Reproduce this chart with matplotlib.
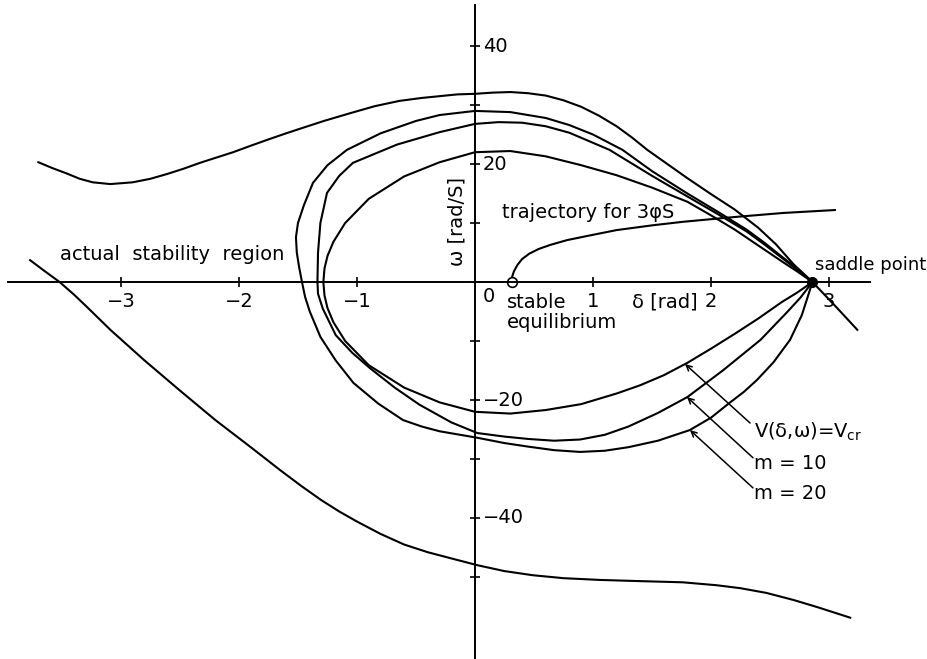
import numpy as np
from matplotlib import pyplot as plt

# stability region boundary (upper one runs through the saddle point)
bound_up_d = [-3.70, -3.58, -3.46, -3.35, -3.24, -3.09, -2.90, -2.75, -2.61, -2.47, -2.33, -2.19, -2.05,
              -1.90, -1.76, -1.63, -1.51, -1.28, -1.06, -0.85, -0.64, -0.45, -0.30, -0.15,
              0.0, 0.15, 0.3, 0.45, 0.6, 0.75, 0.9, 1.05, 1.2, 1.33, 1.46, 1.63, 1.8, 2.0, 2.2, 2.4,
              2.55, 2.7, 2.86, 3.05, 3.24]
bound_up_w = [20.3, 19.3, 18.4, 17.5, 16.9, 16.6, 16.9, 17.5, 18.3, 19.2, 20.2, 21.1, 22.0,
              23.1, 24.1, 25.0, 25.8, 27.3, 28.6, 29.8, 30.7, 31.2, 31.5, 31.8,
              31.9, 32.1, 32.2, 32.0, 31.6, 30.8, 29.7, 28.2, 26.4, 24.5, 22.4, 20.0, 17.6, 14.9, 12.3, 9.2,
              6.4, 3.0, 0.0, -4.0, -8.1]
bound_low_d = [-3.77, -3.65, -3.52, -3.40, -3.30, -3.09, -2.80, -2.50, -2.20, -1.90, -1.65, -1.47, -1.30,
               -1.15, -1.00, -0.80, -0.60, -0.40, -0.21, 0.02, 0.25, 0.49, 0.75, 1.06, 1.40, 1.76, 2.05,
               2.25, 2.47, 2.70, 2.90, 3.18]
bound_low_w = [3.7, 1.9, 0.0, -2.1, -4.0, -8.1, -13.3, -18.4, -23.4, -28.0, -31.9, -34.6, -37.0,
               -38.9, -40.6, -42.7, -44.5, -45.8, -46.8, -48.0, -49.0, -49.7, -50.2, -50.5, -50.7, -50.9, -51.4,
               -51.9, -52.7, -53.9, -55.1, -56.9]

# trajectory for 3phi S fault
traj_d = [0.31, 0.315, 0.33, 0.36, 0.40, 0.46, 0.54, 0.64, 0.78, 0.95, 1.20, 1.50, 1.76, 2.19, 2.61, 3.05]
traj_w = [0.3, 0.9, 1.8, 2.9, 3.9, 4.8, 5.6, 6.3, 7.1, 7.8, 8.8, 9.6, 10.2, 11.0, 11.7, 12.2]

# V(delta,omega) = Vcr
vcr_d = [2.86, 2.73, 2.6, 2.4, 2.2, 2.0, 1.8, 1.5, 1.2, 0.9, 0.6, 0.3, 0.0, -0.3, -0.6, -0.9, -1.1, -1.2, -1.25,
         -1.275, -1.285, -1.275, -1.25, -1.2, -1.1, -0.9, -0.6, -0.3, 0.0, 0.3, 0.6, 0.9, 1.2, 1.4, 1.6, 1.8,
         2.0, 2.2, 2.4, 2.6, 2.73, 2.86]
vcr_w = [0, 1.8, 3.5, 6.2, 8.9, 11.3, 13.6, 16.0, 18.1, 19.8, 21.3, 22.2, 22.0, 20.3, 17.9, 14.1, 10.0, 6.8, 4.4,
         2.3, 0, -2.3, -4.4, -6.8, -10.0, -14.1, -17.9, -20.4, -22.0, -22.3, -21.7, -20.7, -18.9, -17.5, -15.8,
         -13.7, -11.3, -8.8, -6.2, -3.4, -1.8, 0]

# m = 10
m10_d = [2.86, 2.73, 2.6, 2.45, 2.3, 2.05, 1.8, 1.5, 1.14, 0.8, 0.6, 0.4, 0.2, 0.0, -0.3, -0.66, -1.034, -1.15,
         -1.254, -1.31, -1.33, -1.335, -1.33, -1.29, -1.18, -1.04, -0.89, -0.68, -0.47, -0.2, 0.02, 0.25, 0.45,
         0.67, 0.89, 1.1, 1.3, 1.55, 1.80, 2.1, 2.42, 2.65, 2.76, 2.86]
m10_w = [0, 2.1, 4.1, 6.4, 8.6, 11.6, 14.5, 18.0, 22.4, 25.3, 26.4, 27.0, 27.1, 26.8, 25.4, 23.3, 20.2, 18.0,
         15.1, 10.0, 5.0, 0, -2.0, -4.5, -9.0, -12.0, -14.6, -17.9, -20.8, -23.8, -25.6, -26.2, -26.6,
         -26.9, -26.7, -25.9, -24.5, -22.2, -19.5, -15.0, -9.8, -5.0, -2.6, 0]

# m = 20
m20_d = [2.86, 2.73, 2.6, 2.45, 2.3, 2.05, 1.8, 1.5, 1.25, 1.0, 0.8, 0.6, 0.3, 0.0, -0.3, -0.5, -0.8, -1.085,
         -1.25, -1.373, -1.45, -1.50, -1.517, -1.51, -1.49, -1.466, -1.44, -1.40, -1.31, -1.18, -1.03, -0.82,
         -0.61, -0.45, -0.3, 0.02, 0.25, 0.45, 0.67, 0.89, 1.1, 1.3, 1.55, 1.82, 2.0, 2.15, 2.28, 2.39, 2.53,
         2.67, 2.77, 2.86]
m20_w = [0, 2.3, 4.3, 6.7, 8.9, 12.0, 15.0, 18.8, 22.4, 25.0, 26.6, 27.8, 28.8, 29.0, 28.3, 27.3, 25.2, 22.4,
         19.8, 16.8, 13.0, 10.0, 7.6, 5.0, 2.5, 0, -2.5, -5.0, -9.3, -13.3, -17.1, -20.6,
         -23.4, -24.5, -25.3, -26.4, -27.3, -27.9, -28.5, -28.8, -28.6, -28.0, -26.9, -25.1, -23.0, -20.6, -18.6,
         -16.6, -13.6, -9.8, -5.6, 0]

saddle = (2.86, 0.0)
stable = (0.31, 0.0)

x_ticks = [-3, -2, -1, 1, 2, 3]
x_labels = ['\u22123', '\u22122', '\u22121', '1', '2', '3']
y_ticks = list(range(-50, 41, 10))
y_labels = {40: '40', 20: '20', -20: '\u221220', -40: '\u221240'}

plt.rcParams['font.family'] = ['DejaVu Sans']
fig = plt.figure(figsize=(9.28, 6.59), dpi=100)
ax = fig.add_axes([0, 0, 1, 1])
ax.set_xlim(-4.025, 3.839)
ax.set_ylim(-63.9, 47.8)

lw = 1.5
for d, w in [(bound_up_d, bound_up_w), (bound_low_d, bound_low_w), (traj_d, traj_w),
             (vcr_d, vcr_w), (m10_d, m10_w), (m20_d, m20_w)]:
    ax.plot(d, w, 'k-', lw=lw, solid_joinstyle='round')
ax.plot(*saddle, 'ko', ms=7)
ax.plot(*stable, 'o', mfc='white', mec='k', mew=1.2, ms=7)

# axes through the origin
for s in ['top', 'right']:
    ax.spines[s].set_visible(False)
ax.spines['left'].set_position(('data', 0))
ax.spines['bottom'].set_position(('data', 0))
ax.spines['bottom'].set_bounds(-3.96, 3.35)
ax.spines['left'].set_bounds(-63.9, 46.9)
ax.spines['left'].set_linewidth(1.4)
ax.spines['bottom'].set_linewidth(1.4)
ax.set_xticks(x_ticks)
ax.set_xticklabels(x_labels)
ax.set_yticks(y_ticks)
ax.set_yticklabels([])
ax.tick_params(axis='x', direction='inout', length=7, width=1.2, pad=4, labelsize=14)
ax.tick_params(axis='y', direction='inout', length=7, width=1.2)
for v, t in y_labels.items():
    ax.text(0.068, v, t, fontsize=14, ha='left', va='center')
ax.text(0.068, -2.4, '0', fontsize=14, ha='left', va='center')

fs = 14
ax.text(-0.153, 10.2, '\u03c9 [rad/S]', fontsize=fs, rotation=90, ha='center', va='center')
ax.text(1.33, -3.4, '\u03b4 [rad]', fontsize=fs, ha='left', va='center')
ax.text(-3.517, 4.6, 'actual  stability  region', fontsize=fs, ha='left', va='center')
ax.text(0.229, 11.7, 'trajectory for 3\u03c6S', fontsize=fs, ha='left', va='center')
ax.text(2.88, 2.9, 'saddle point', fontsize=13, ha='left', va='center')
ax.text(0.27, -3.4, 'stable', fontsize=fs, ha='left', va='center')
ax.text(0.27, -6.9, 'equilibrium', fontsize=fs, ha='left', va='center')

# labelled arrows to the three estimates
arrow = dict(arrowstyle='->', lw=1.1, color='k', shrinkA=0, shrinkB=0)
ax.annotate('', xy=(1.78, -13.9), xytext=(2.331, -23.9), arrowprops=arrow)
ax.annotate('', xy=(1.797, -19.5), xytext=(2.356, -29.8), arrowprops=arrow)
ax.annotate('', xy=(1.822, -25.1), xytext=(2.356, -34.9), arrowprops=arrow)
ax.text(2.364, -25.4, 'V(\u03b4,\u03c9)=V$_{\\rm cr}$', fontsize=fs, ha='left', va='center')
ax.text(2.364, -30.7, 'm = 10', fontsize=fs, ha='left', va='center')
ax.text(2.364, -35.8, 'm = 20', fontsize=fs, ha='left', va='center')

plt.savefig('out.png', dpi=100)
